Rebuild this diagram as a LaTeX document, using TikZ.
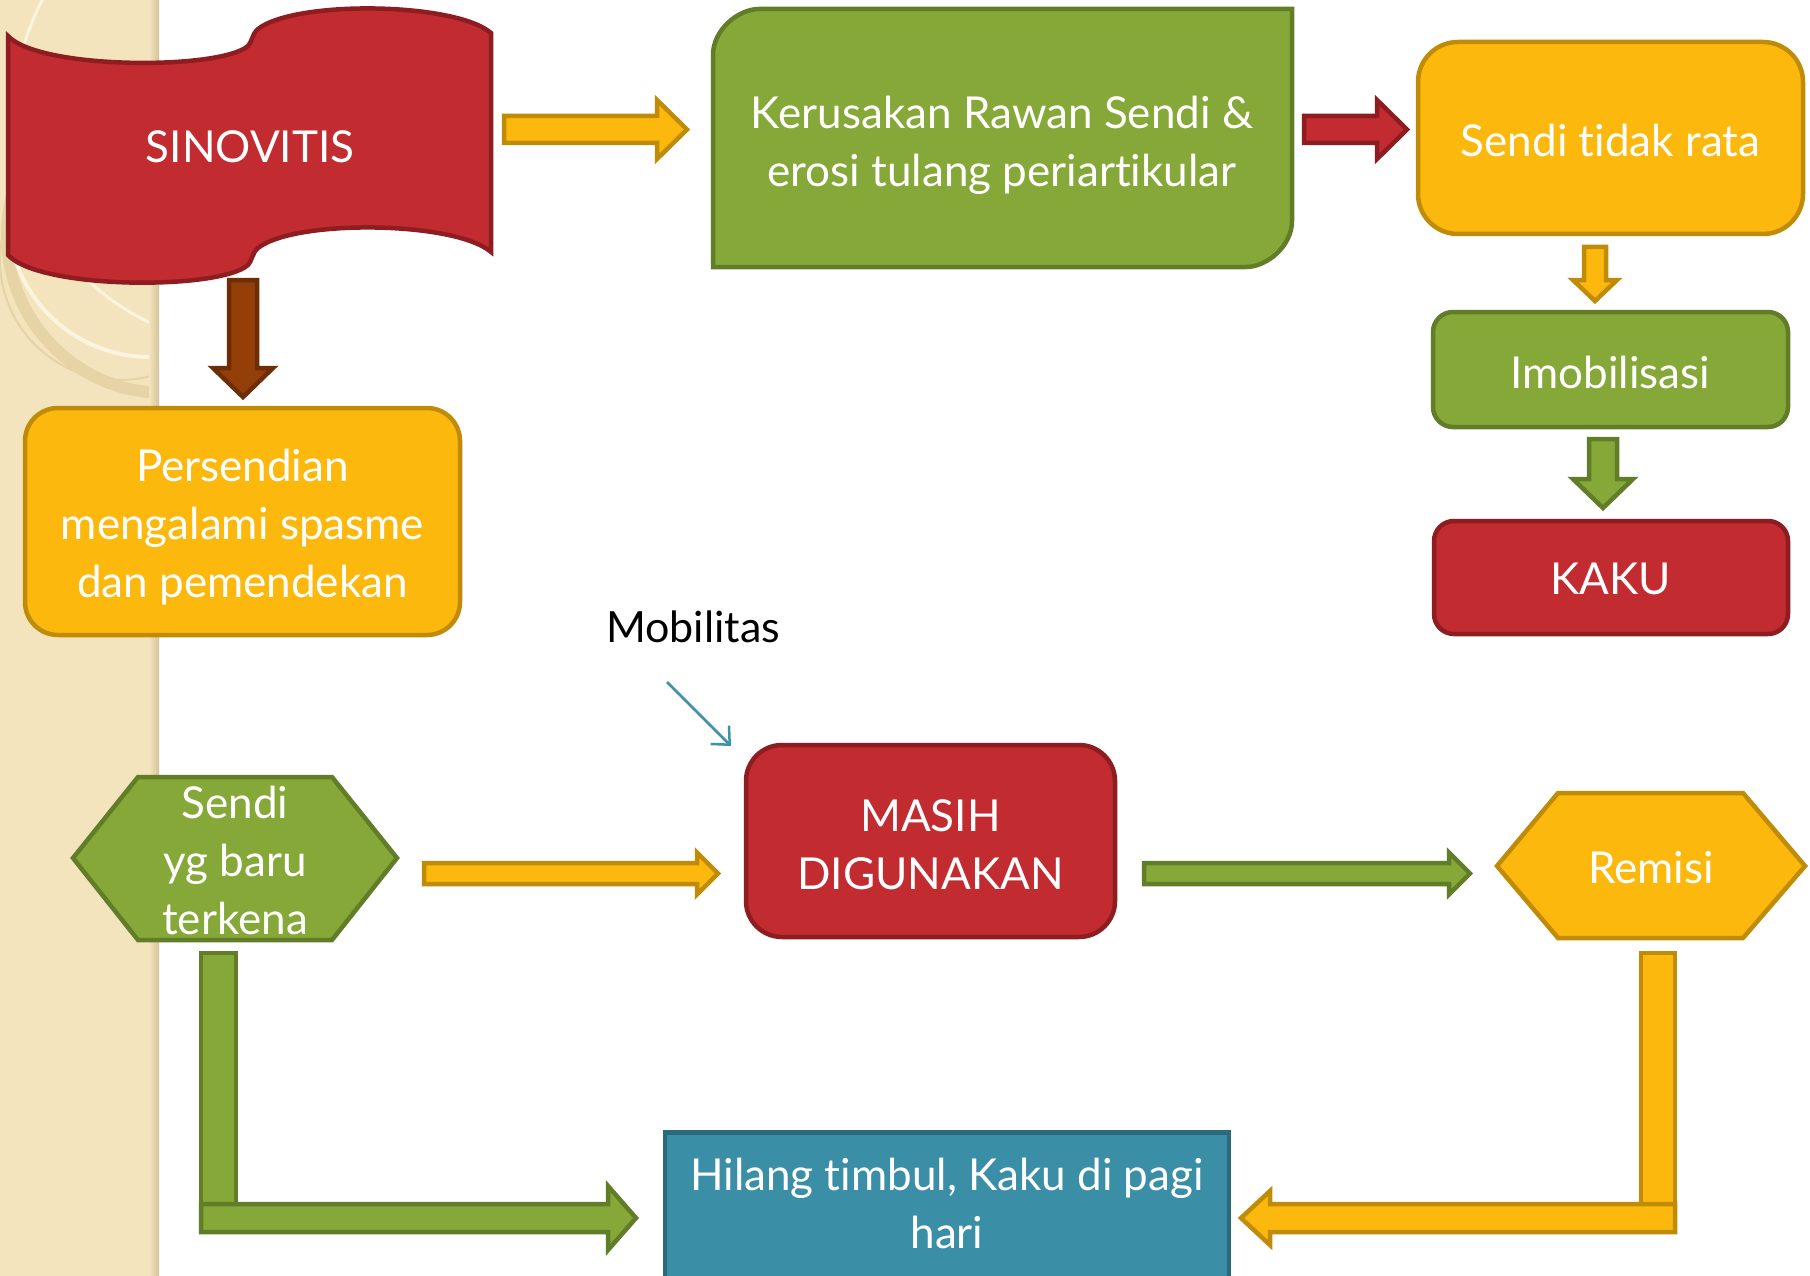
\documentclass[tikz,border=0pt]{standalone}
\usepackage{fontspec}
\setmainfont{Lato}[Ligatures=NoCommon]
\usetikzlibrary{arrows.meta}

\definecolor{grnF}{HTML}{85A838}
\definecolor{grnD}{HTML}{627D28}
\definecolor{ylwF}{HTML}{FDB80D}
\definecolor{ylwD}{HTML}{C08B06}
\definecolor{redF}{HTML}{C22B30}
\definecolor{redD}{HTML}{8E1D21}
\definecolor{brnF}{HTML}{943F07}
\definecolor{brnD}{HTML}{6E2D05}
\definecolor{tealF}{HTML}{3A8FA6}
\definecolor{tealD}{HTML}{2A6A7B}
\definecolor{tealA}{HTML}{3A93A8}
\definecolor{paper}{HTML}{F3E4BE}
\definecolor{paperD}{HTML}{D6C297}
\definecolor{ringT}{HTML}{E6D3A6}
\definecolor{ringW}{HTML}{FBF4DE}

% right/left block arrow: style, x start, x tip, y centre, half shaft, half head, head length
\newcommand\hblock[7]{%
  \path[#1] ({#2},{#4-#5}) -- ({#3-(#7)},{#4-#5}) -- ({#3-(#7)},{#4-#6})
    -- ({#3},{#4}) -- ({#3-(#7)},{#4+#6}) -- ({#3-(#7)},{#4+#5})
    -- ({#2},{#4+#5}) -- cycle;}
% downward block arrow: style, x centre, y start, y tip, half shaft, half head, head length
\newcommand\vblock[7]{%
  \path[#1] ({#2-#5},{#3}) -- ({#2-#5},{#4-#7}) -- ({#2-#6},{#4-#7})
    -- ({#2},{#4}) -- ({#2+#6},{#4-#7}) -- ({#2+#5},{#4-#7})
    -- ({#2+#5},{#3}) -- cycle;}

\begin{document}
\begin{tikzpicture}[x=1pt,y=-1pt,
  line join=miter,
  boxline/.style={line width=4.5},
  arrline/.style={line width=4.5},
  label/.style={text=white, align=center, inner sep=0,
    font=\fontsize{44}{58}\selectfont},
  roundbox/.style={boxline, label, rounded corners=#1},
  gbox/.style={fill=grnF, draw=grnD},
  ybox/.style={fill=ylwF, draw=ylwD},
  rbox/.style={fill=redF, draw=redD},
  tbox/.style={fill=tealF, draw=tealD},
  garr/.style={arrline, fill=grnF, draw=grnD},
  yarr/.style={arrline, fill=ylwF, draw=ylwD},
  rarr/.style={arrline, fill=redF, draw=redD},
  barr/.style={arrline, fill=brnF, draw=brnD}]
\useasboundingbox (0,0) rectangle (1810,1276);
\fill[white] (0,0) rectangle (1810,1276);

% textured side strip with its decorative rings
\fill[paper] (0,0) rectangle (159,1276);
\begin{scope}
  \clip (0,0) rectangle (154,1276);
  \draw[ringT, line width=12] (165,235) circle (158);
  \draw[ringW, line width=4] (150,215) circle (142);
  \draw[ringW, line width=3] (250,110) circle (235);
  \draw[ringT, line width=2] (120,260) circle (120);
\end{scope}
\shade[left color=paper, right color=paperD] (149,0) rectangle (159,1276);

% SINOVITIS banner
\path[boxline, fill=redF, draw=redD]
  (8,36) .. controls (40,70) and (220,70) .. (248,46)
  .. controls (252,42) and (252,34) .. (258,29)
  .. controls (295,0) and (455,2) .. (491,33)
  -- (491,252)
  .. controls (455,221) and (295,219) .. (258,248)
  .. controls (252,253) and (252,261) .. (248,265)
  .. controls (220,290) and (40,290) .. (8,255) -- cycle;
\node[label] (sinov) at (250,147) {SINOVITIS};

% round diagonal corner box
\path[boxline, gbox]
  (713,267) -- (713,55) .. controls (713,29.6) and (738.4,9) .. (759,9)
  -- (1292,9) -- (1292,221) .. controls (1292,246.4) and (1266.6,267) .. (1246,267)
  -- cycle;
\node[label] (kerus) at (1002,145) {Kerusakan Rawan Sendi \&\\erosi tulang periartikular};

% right column
\node[roundbox=40, ybox, minimum width=385, minimum height=192] (rata) at (1610.5,138) {};
\node[label] (rataT) at (1610.5,140) {Sendi tidak rata};
\node[roundbox=20, gbox, minimum width=355, minimum height=115] (imob) at (1610.5,369.5) {};
\node[label] (imobT) at (1610.5,372) {Imobilisasi};
\node[roundbox=20, rbox, minimum width=354, minimum height=113] (kaku) at (1611,577.5) {};
\node[label] (kakuT) at (1611,579) {KAKU};

% left column
\node[roundbox=33, ybox, minimum width=435, minimum height=227] (spasme) at (242.5,521.5) {};
\node[label] (spasmeT) at (242.5,527) {Persendian\\mengalami spasme\\dan pemendekan};

% middle row
\node[text=black, inner sep=0, font=\fontsize{43}{50}\selectfont] (mobil) at (693,627) {Mobilitas};
\node[roundbox=36, rbox, minimum width=369, minimum height=192] (masih) at (930.5,841) {};
\node[label] (masihT) at (930.5,845) {MASIH\\DIGUNAKAN};

\path[boxline, gbox] (73,858) -- (138,777) -- (332,777) -- (397,858) -- (332,940) -- (138,940) -- cycle;
\node[label] (baru) at (235,860) {Sendi\\yg baru\\terkena};

\path[boxline, ybox] (1497,866) -- (1558,793) -- (1743,793) -- (1805,866) -- (1743,938) -- (1558,938) -- cycle;
\node[label] (remisi) at (1651,868) {Remisi};

% bottom box
\node[boxline, tbox, label, minimum width=564, minimum height=170, anchor=north] (hilang) at (947,1130) {};
\node[label] (hilangT) at (947,1203) {Hilang timbul, Kaku di pagi\\hari};

% block arrows along the flow
\hblock{yarr}{504}{687}{129.5}{13.5}{29.5}{30}
\hblock{rarr}{1304}{1407}{129.5}{13.5}{29.5}{30}
\vblock{barr}{243}{280}{397}{14}{30}{29}
\vblock{yarr}{1595}{247}{301}{11}{22}{21}
\vblock{garr}{1603}{439}{508}{14}{30}{29}
\hblock{yarr}{424}{718}{873.5}{10.5}{21}{21}
\hblock{garr}{1144}{1470}{873.5}{10.5}{21}{21}

% elbow arrows into the bottom box
\path[garr] (201,953) rectangle (236,1232);
\hblock{garr}{201}{636}{1218}{14}{32}{28}
\path[yarr] (1641,953) rectangle (1675,1232);
\hblock{yarr}{1675}{1241}{1218}{14}{27}{-29}

% pointer under the Mobilitas label
\coordinate (mobA) at (667,682);
\coordinate (mobB) at (731,746);
\draw[tealA, line width=2.5, -{Straight Barb[length=14, width=26, line width=2.5]}] (mobA) -- (mobB);
\end{tikzpicture}
\end{document}
